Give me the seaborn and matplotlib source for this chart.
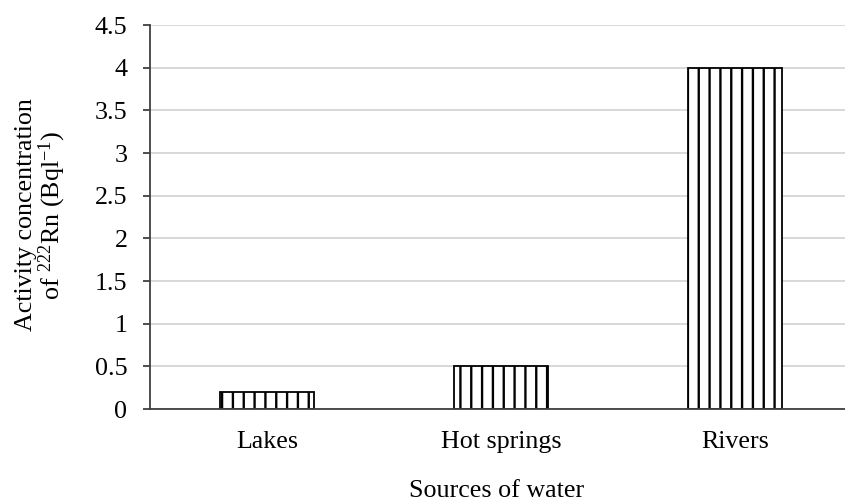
import matplotlib
matplotlib.use("Agg")
import matplotlib.pyplot as plt
import seaborn as sns
import pandas as pd

categories = ["Lakes", "Hot springs", "Rivers"]
values = [0.2, 0.5, 4.0]
yticks = [0, 0.5, 1, 1.5, 2, 2.5, 3, 3.5, 4, 4.5]
ytick_labels = ["0", "0.5", "1", "1.5", "2", "2.5", "3", "3.5", "4", "4.5"]

sns.set_theme(style="white")
plt.rcParams["font.family"] = ["Liberation Serif", "DejaVu Serif"]
plt.rcParams["mathtext.fontset"] = "custom"
plt.rcParams["mathtext.rm"] = "Liberation Serif"
plt.rcParams["mathtext.it"] = "Liberation Serif:italic"
plt.rcParams["hatch.color"] = "black"
plt.rcParams["hatch.linewidth"] = 1.3

FS = 14.4
dpi = 130
fig = plt.figure(figsize=(845 / dpi, 501 / dpi), dpi=dpi)
W, H = 845, 501
left, right_px, top, bottom = 150, 852, 25, 409
ax = fig.add_axes([left / W, 1 - bottom / H, (right_px - left) / W, (bottom - top) / H])

df = pd.DataFrame({"cat": categories, "val": values})
sns.barplot(data=df, x="cat", y="val", ax=ax, color="white", edgecolor="black",
            linewidth=1.0, width=0.4, hatch="||", saturation=1)

ax.set_xlim(-0.5, 2.5)
ax.set_ylim(0, 4.5)
ax.set_yticks(yticks)
ax.set_yticklabels(ytick_labels)
ax.yaxis.grid(True, color="#d9d9d9", linewidth=1.1)
ax.set_axisbelow(True)

ax.set_xticks(range(len(categories)))
ax.set_xticklabels(categories)
ax.set_xticks([-0.5, 0.5, 1.5, 2.5], minor=True)
ax.tick_params(axis="x", which="major", length=0, pad=12, labelsize=FS, colors="black")
ax.tick_params(axis="x", which="minor", length=4, width=1.0, color="#404040", direction="out")
ax.tick_params(axis="y", which="major", length=4, width=1.0, color="#404040", direction="out",
               pad=8.5, labelsize=FS, labelcolor="black", left=True)

for s in ["top", "right"]:
    ax.spines[s].set_visible(False)
for s in ["left", "bottom"]:
    ax.spines[s].set_color("#404040")
    ax.spines[s].set_linewidth(1.0)

ax.set_xlabel("Sources of water", fontsize=FS, color="black")
ax.xaxis.set_label_coords((497 - left) / (right_px - left), -(480 - bottom) / (bottom - top))
ax.set_ylabel("Activity concentration\nof $\\mathregular{^{222}}$Rn (Bql$\\mathregular{^{-1}}$)",
              fontsize=FS, color="black", linespacing=1.0)
ax.yaxis.set_label_coords(-(150 - 68) / (right_px - left), (409 - 215) / (bottom - top))

fig.savefig("out.png", dpi=dpi, facecolor="white")
